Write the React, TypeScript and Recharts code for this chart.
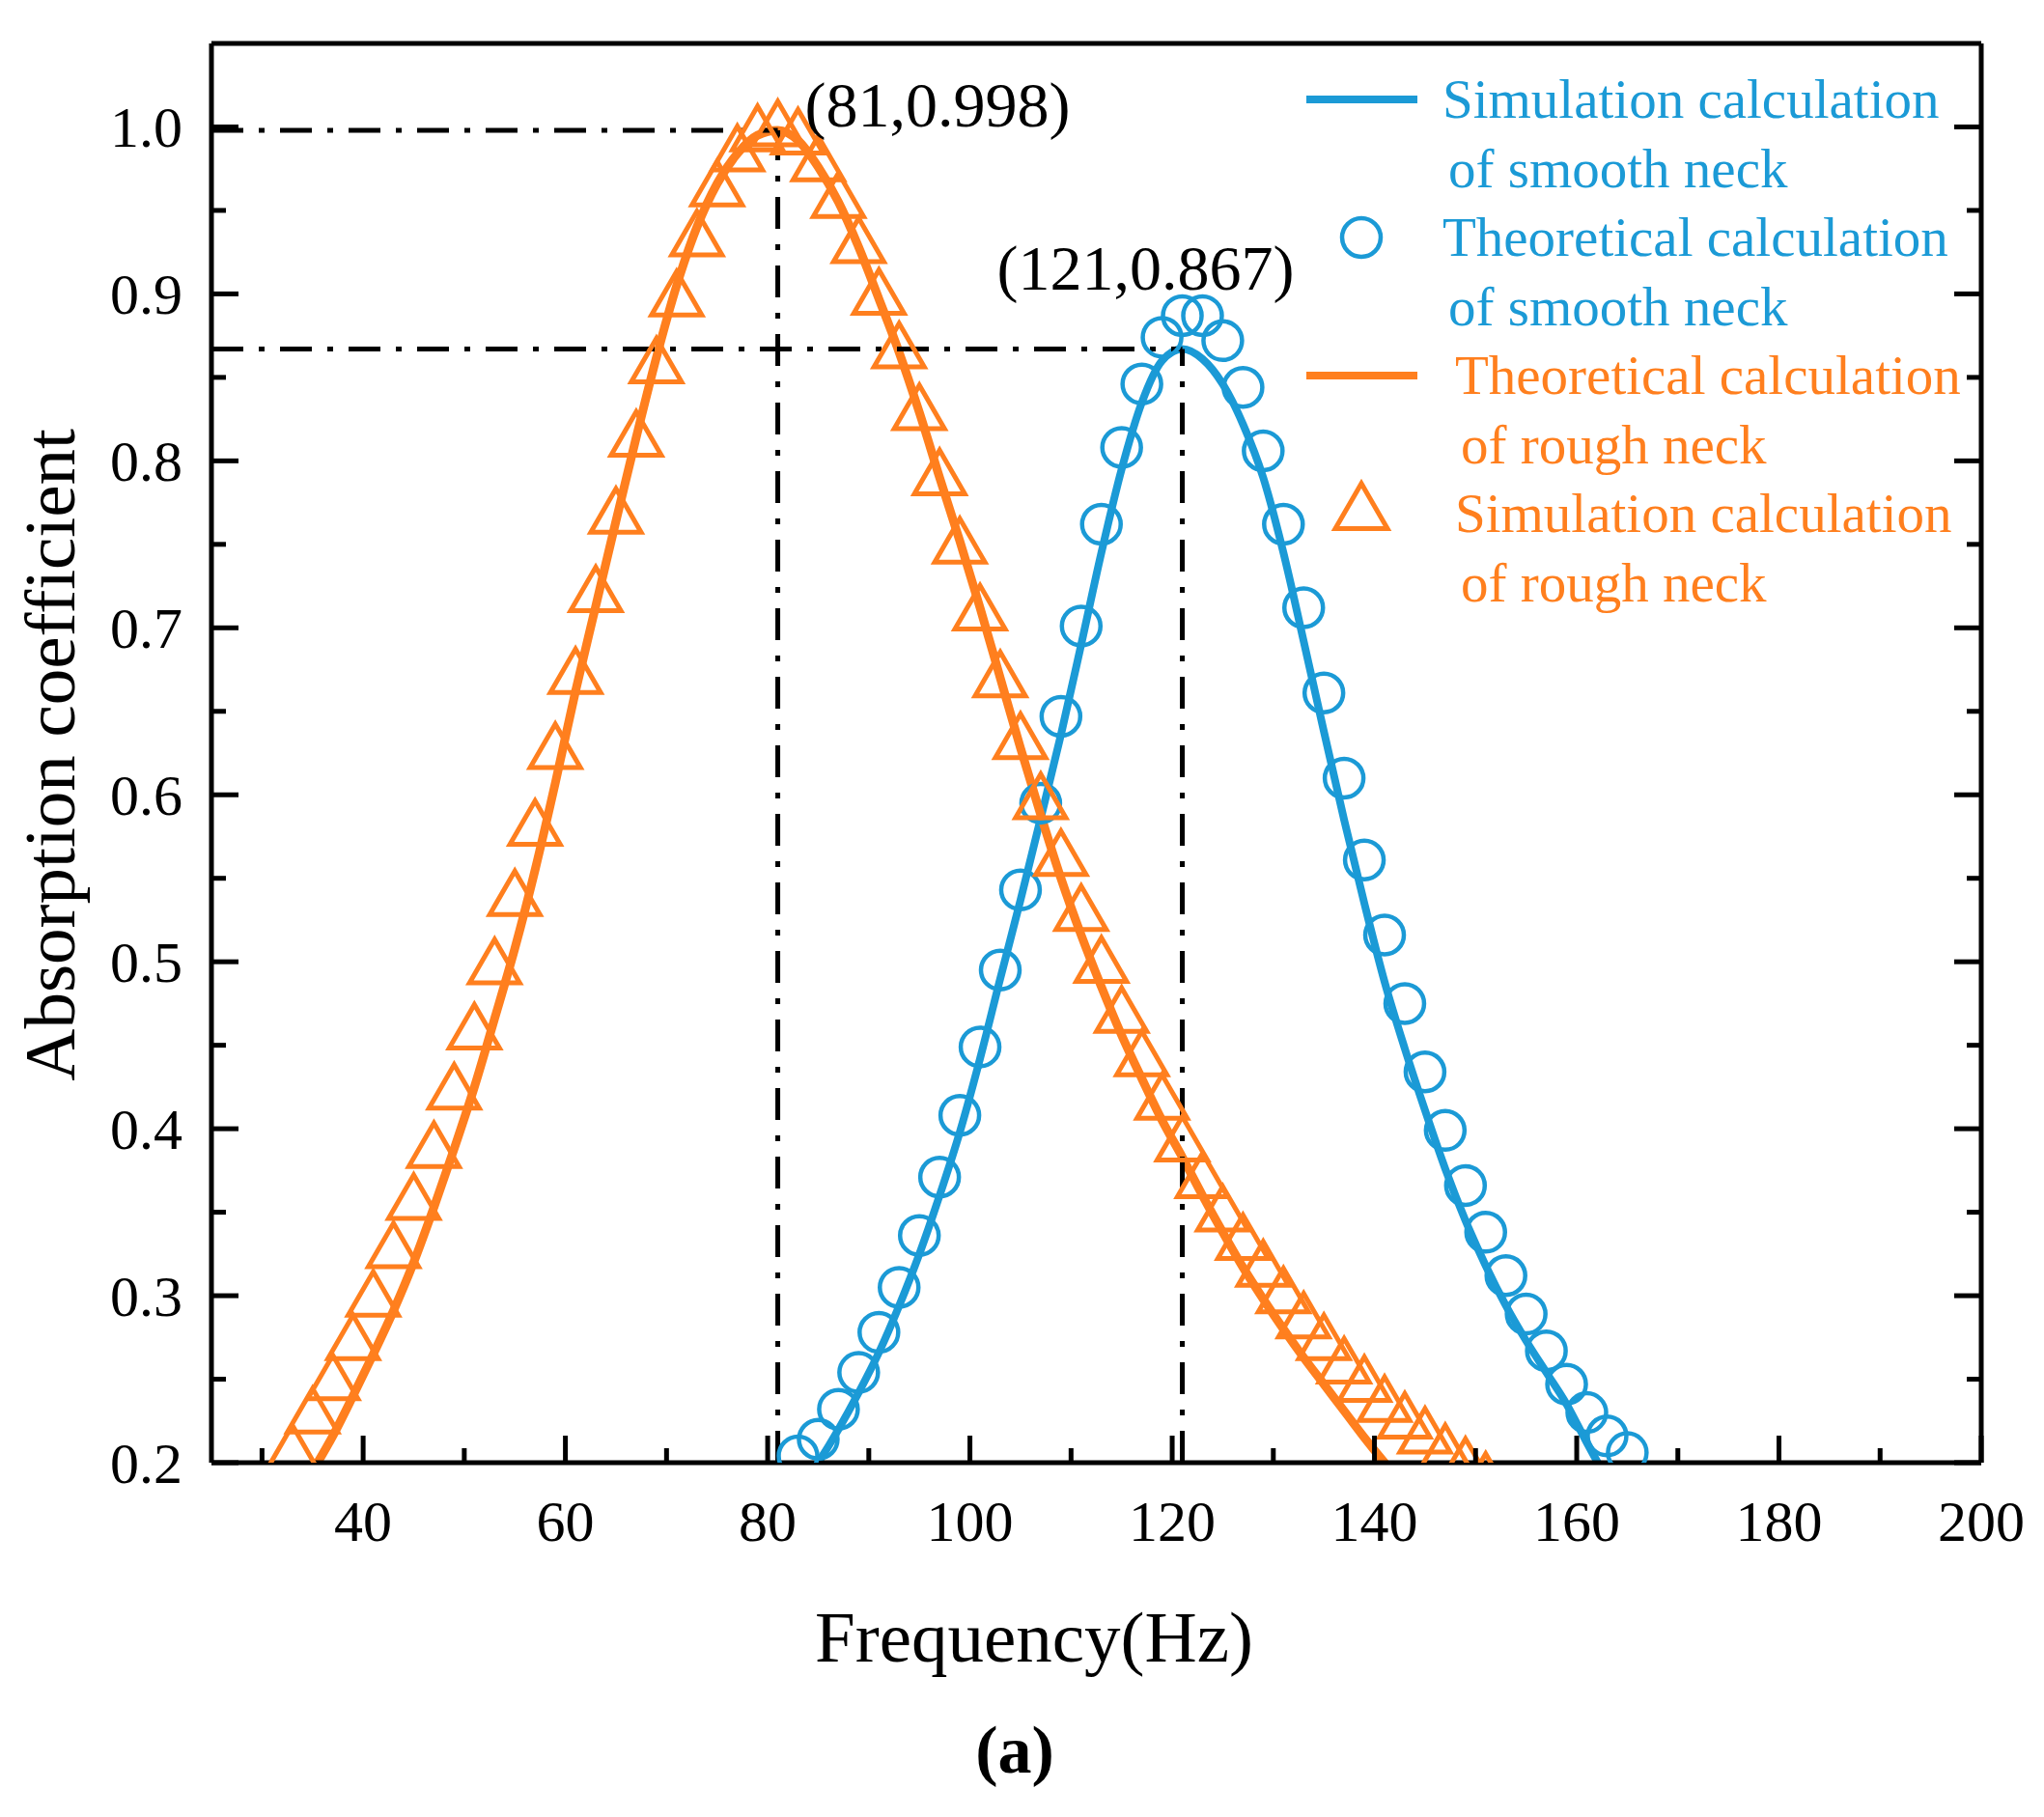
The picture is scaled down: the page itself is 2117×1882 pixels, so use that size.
import {
  ComposedChart,
  Line,
  Scatter,
  XAxis,
  YAxis,
  ReferenceLine,
  ReferenceDot,
  Legend,
} from 'recharts';

const FONT = "'Times New Roman', 'Liberation Serif', serif";
const BLUE = '#1B9AD6';
const ORANGE = '#FF7F1E';

// Simulation, smooth neck (solid blue line)
const SMOOTH_SIM_FREQ = [
  83, 85, 87, 89, 91, 93, 95, 97, 99, 101, 103, 105, 107, 109, 111, 113, 115, 117, 119, 121,
  123, 125, 127, 129, 131, 133, 135, 137, 139, 141, 143, 145, 147, 149, 151, 153, 155, 157, 159, 161, 163,
];
const SMOOTH_SIM_ALPHA = [
  0.182, 0.2, 0.22, 0.242, 0.266, 0.294, 0.325, 0.36, 0.398, 0.442, 0.49, 0.537, 0.586, 0.636, 0.69, 0.745,
  0.795, 0.835, 0.86, 0.867, 0.861, 0.846, 0.822, 0.79, 0.745, 0.692, 0.638, 0.585, 0.535, 0.488, 0.448,
  0.411, 0.376, 0.345, 0.318, 0.294, 0.273, 0.254, 0.235, 0.212, 0.19,
];

// Theory, smooth neck (blue circles)
const SMOOTH_THEORY_FREQ = [
  83, 85, 87, 89, 91, 93, 95, 97, 99, 101, 103, 105, 107, 109, 111, 113, 115, 117, 119, 121, 123,
  125, 127, 129, 131, 133, 135, 137, 139, 141, 143, 145, 147, 149, 151, 153, 155, 157, 159, 161, 163, 165,
];
const SMOOTH_THEORY_ALPHA = [
  0.204, 0.214, 0.232, 0.254, 0.278, 0.305, 0.336, 0.371, 0.408, 0.449, 0.495, 0.543, 0.595, 0.647, 0.701,
  0.762, 0.808, 0.846, 0.874, 0.887, 0.887, 0.872, 0.844, 0.806, 0.762, 0.712, 0.661, 0.61, 0.561, 0.516,
  0.475, 0.434, 0.399, 0.366, 0.338, 0.312, 0.289, 0.267, 0.247, 0.23, 0.216, 0.206,
];

// Theory, rough neck (solid orange line)
const ROUGH_THEORY_FREQ = [
  35, 37, 39, 41, 43, 45, 47, 49, 51, 53, 55, 57, 59, 61, 63, 65, 67, 69, 71, 73, 75, 77, 79, 81, 83,
  85, 87, 89, 91, 93, 95, 97, 99, 101, 103, 105, 107, 109, 111, 113, 115, 117, 119, 121, 123, 125, 127,
  129, 131, 133, 135, 137, 139, 141, 143,
];
const ROUGH_THEORY_ALPHA = [
  0.195, 0.216, 0.24, 0.265, 0.291, 0.32, 0.353, 0.388, 0.425, 0.466, 0.508, 0.555, 0.607, 0.662, 0.713,
  0.764, 0.814, 0.862, 0.905, 0.94, 0.966, 0.984, 0.995, 0.998, 0.992, 0.976, 0.955, 0.928, 0.897, 0.865,
  0.829, 0.79, 0.752, 0.712, 0.67, 0.628, 0.588, 0.55, 0.516, 0.485, 0.456, 0.43, 0.405, 0.383, 0.36,
  0.338, 0.317, 0.298, 0.28, 0.263, 0.247, 0.231, 0.215, 0.2, 0.186,
];

// Simulation, rough neck (orange triangles)
const ROUGH_SIM_FREQ = [
  33, 35, 37, 39, 41, 43, 45, 47, 49, 51, 53, 55, 57, 59, 61, 63, 65, 67, 69, 71, 73, 75, 77, 79, 81,
  83, 85, 87, 89, 91, 93, 95, 97, 99, 101, 103, 105, 107, 109, 111, 113, 115, 117, 119, 121, 123, 125,
  127, 129, 131, 133, 135, 137, 139, 141, 143, 145, 147, 149, 151,
];
const ROUGH_SIM_ALPHA = [
  0.205, 0.227, 0.247, 0.271, 0.297, 0.326, 0.355, 0.386, 0.421, 0.457, 0.496, 0.537, 0.579, 0.625, 0.67,
  0.719, 0.766, 0.812, 0.856, 0.896, 0.932, 0.962, 0.983, 0.995, 0.998, 0.993, 0.977, 0.955, 0.928, 0.897,
  0.865, 0.828, 0.789, 0.748, 0.708, 0.668, 0.631, 0.595, 0.561, 0.528, 0.497, 0.467, 0.441, 0.415, 0.39,
  0.368, 0.348, 0.331, 0.315, 0.299, 0.284, 0.271, 0.257, 0.246, 0.234, 0.224, 0.215, 0.205, 0.197, 0.188,
];

const PEAK_FREQ = [81, 121];
const PEAK_ALPHA = [0.998, 0.867];
const PEAK_LABELS = ['(81,0.998)', '(121,0.867)'];

const X_DOMAIN: [number, number] = [25, 200];
const Y_DOMAIN: [number, number] = [0.2, 1.05];
const X_TICKS = [30, 40, 50, 60, 70, 80, 90, 100, 110, 120, 130, 140, 150, 160, 170, 180, 190, 200];
const X_MAJOR = [40, 60, 80, 100, 120, 140, 160, 180, 200];
const Y_TICKS = [0.2, 0.25, 0.3, 0.35, 0.4, 0.45, 0.5, 0.55, 0.6, 0.65, 0.7, 0.75, 0.8, 0.85, 0.9, 0.95, 1.0];
const Y_MAJOR = [0.2, 0.3, 0.4, 0.5, 0.6, 0.7, 0.8, 0.9, 1.0];

const LEGEND_ITEMS = [
  { lines: ['Simulation calculation', 'of smooth neck'], color: BLUE, symbol: 'line' },
  { lines: ['Theoretical calculation', 'of smooth neck'], color: BLUE, symbol: 'circle' },
  { lines: ['Theoretical calculation', 'of rough neck'], color: ORANGE, symbol: 'line' },
  { lines: ['Simulation calculation', 'of rough neck'], color: ORANGE, symbol: 'triangle' },
];

const toPoints = (xs: number[], ys: number[]) => xs.map((x, i) => ({ x, y: ys[i] }));

const smoothSim = toPoints(SMOOTH_SIM_FREQ, SMOOTH_SIM_ALPHA);
const smoothTheory = toPoints(SMOOTH_THEORY_FREQ, SMOOTH_THEORY_ALPHA);
const roughTheory = toPoints(ROUGH_THEORY_FREQ, ROUGH_THEORY_ALPHA);
const roughSim = toPoints(ROUGH_SIM_FREQ, ROUGH_SIM_ALPHA);

const MAJOR_LEN = 28;
const MINOR_LEN = 15;
const TICK_W = 5;
const TICK_FONT = 60;

const isMajor = (list: number[], v: number) => list.some((m) => Math.abs(m - v) < 1e-9);

function triPath(cx: number, cy: number, side: number) {
  const h = side * 0.866;
  return `M${cx},${cy - (2 * h) / 3} L${cx + side / 2},${cy + h / 3} L${cx - side / 2},${cy + h / 3} Z`;
}

function BottomTick({ x, y, payload }: any) {
  const major = isMajor(X_MAJOR, payload.value);
  return (
    <g>
      <line x1={x} y1={y} x2={x} y2={y - (major ? MAJOR_LEN : MINOR_LEN)} stroke="#000" strokeWidth={TICK_W} />
      {major && (
        <text x={x} y={y + 60} dy="0.35em" textAnchor="middle" fontFamily={FONT} fontSize={TICK_FONT} fill="#000">
          {payload.value}
        </text>
      )}
    </g>
  );
}

function TopTick({ x, y, payload }: any) {
  const major = isMajor(X_MAJOR, payload.value);
  return <line x1={x} y1={y} x2={x} y2={y + (major ? MAJOR_LEN : MINOR_LEN)} stroke="#000" strokeWidth={TICK_W} />;
}

function LeftTick({ x, y, payload }: any) {
  const major = isMajor(Y_MAJOR, payload.value);
  return (
    <g>
      <line x1={x} y1={y} x2={x + (major ? MAJOR_LEN : MINOR_LEN)} y2={y} stroke="#000" strokeWidth={TICK_W} />
      {major && (
        <text x={x - 30} y={y} dy="0.35em" textAnchor="end" fontFamily={FONT} fontSize={TICK_FONT} fill="#000">
          {payload.value.toFixed(1)}
        </text>
      )}
    </g>
  );
}

function RightTick({ x, y, payload }: any) {
  const major = isMajor(Y_MAJOR, payload.value);
  return <line x1={x} y1={y} x2={x - (major ? MAJOR_LEN : MINOR_LEN)} y2={y} stroke="#000" strokeWidth={TICK_W} />;
}

const CircleMark = (p: any) => (
  <circle cx={p.cx} cy={p.cy} r={20} fill="none" stroke={BLUE} strokeWidth={4.5} />
);

const TriangleMark = (p: any) => (
  <path d={triPath(p.cx, p.cy, 52)} fill="none" stroke={ORANGE} strokeWidth={5} />
);

function XTitle({ viewBox }: any) {
  return (
    <g fontFamily={FONT} fill="#000">
      <text x={viewBox.x + 852} y={viewBox.y + 206} textAnchor="middle" fontSize={75}>
        Frequency(Hz)
      </text>
      <text x={viewBox.x + 832} y={viewBox.y + 321} textAnchor="middle" fontSize={70} fontWeight="bold">
        (a)
      </text>
    </g>
  );
}

function YTitle({ viewBox }: any) {
  const cy = viewBox.y + viewBox.height / 2 + 2;
  return (
    <text
      x={77}
      y={cy}
      transform={`rotate(-90, 77, ${cy})`}
      textAnchor="middle"
      fontFamily={FONT}
      fontSize={75}
      fill="#000"
    >
      Absorption coefficient
    </text>
  );
}

function LegendBox() {
  return (
    <svg width={760} height={640} style={{ overflow: 'visible' }}>
      {LEGEND_ITEMS.map((item, i) => {
        const base = 82 + i * 143;
        const sy = base - 19;
        const tx = item.color === BLUE ? 164 : 177;
        return (
          <g key={i}>
            {item.symbol === 'line' && (
              <line x1={23} y1={sy} x2={138} y2={sy} stroke={item.color} strokeWidth={8} />
            )}
            {item.symbol === 'circle' && (
              <circle cx={80} cy={sy} r={20} fill="none" stroke={item.color} strokeWidth={4.5} />
            )}
            {item.symbol === 'triangle' && (
              <path d={triPath(80, sy, 54)} fill="none" stroke={item.color} strokeWidth={5} />
            )}
            <text x={tx} y={base} fontFamily={FONT} fontSize={57} fill={item.color}>
              {item.lines[0]}
            </text>
            <text x={tx + 6} y={base + 72} fontFamily={FONT} fontSize={57} fill={item.color}>
              {item.lines[1]}
            </text>
          </g>
        );
      })}
    </svg>
  );
}

export default function App() {
  return (
    <div style={{ width: 2117, height: 1882, background: '#fff' }}>
      <style>{'body{margin:0}'}</style>
      <ComposedChart width={2117} height={1882} margin={{ top: 0, right: 0, bottom: 0, left: 0 }}>
        <XAxis
          dataKey="x"
          type="number"
          domain={X_DOMAIN}
          allowDataOverflow
          ticks={X_TICKS}
          interval={0}
          tickSize={0}
          tickMargin={0}
          tickLine={false}
          tick={<BottomTick />}
          axisLine={{ stroke: '#000', strokeWidth: 5 }}
          height={367}
          label={XTitle}
        />
        <XAxis
          xAxisId="top"
          orientation="top"
          type="number"
          domain={X_DOMAIN}
          allowDataOverflow
          ticks={X_TICKS}
          interval={0}
          tickSize={0}
          tickMargin={0}
          tickLine={false}
          tick={<TopTick />}
          axisLine={{ stroke: '#000', strokeWidth: 5 }}
          height={45}
        />
        <YAxis
          type="number"
          domain={Y_DOMAIN}
          allowDataOverflow
          ticks={Y_TICKS}
          interval={0}
          tickSize={0}
          tickMargin={0}
          tickLine={false}
          tick={<LeftTick />}
          axisLine={{ stroke: '#000', strokeWidth: 5 }}
          width={219}
          label={YTitle}
        />
        <YAxis
          yAxisId="right"
          orientation="right"
          type="number"
          domain={Y_DOMAIN}
          allowDataOverflow
          ticks={Y_TICKS}
          interval={0}
          tickSize={0}
          tickMargin={0}
          tickLine={false}
          tick={<RightTick />}
          axisLine={{ stroke: '#000', strokeWidth: 5 }}
          width={65}
        />
        <Line
          data={smoothSim}
          dataKey="y"
          type="monotone"
          stroke={BLUE}
          strokeWidth={8}
          dot={false}
          activeDot={false}
          isAnimationActive={false}
        />
        <Scatter data={smoothTheory} dataKey="y" shape={CircleMark} isAnimationActive={false} />
        <Line
          data={roughTheory}
          dataKey="y"
          type="monotone"
          stroke={ORANGE}
          strokeWidth={9}
          dot={false}
          activeDot={false}
          isAnimationActive={false}
        />
        <Scatter data={roughSim} dataKey="y" shape={TriangleMark} isAnimationActive={false} />
        {PEAK_FREQ.map((f, i) => (
          <ReferenceLine
            key={`h${i}`}
            segment={[
              { x: X_DOMAIN[0], y: PEAK_ALPHA[i] },
              { x: f, y: PEAK_ALPHA[i] },
            ]}
            stroke="#000"
            strokeWidth={5}
            strokeDasharray="33 16 6 16"
            ifOverflow="visible"
          />
        ))}
        {PEAK_FREQ.map((f, i) => (
          <ReferenceLine
            key={`v${i}`}
            segment={[
              { x: f, y: Y_DOMAIN[0] },
              { x: f, y: PEAK_ALPHA[i] },
            ]}
            stroke="#000"
            strokeWidth={5}
            strokeDasharray="33 16 6 16"
            ifOverflow="visible"
          />
        ))}
        {PEAK_FREQ.map((f, i) => (
          <ReferenceDot
            key={`l${i}`}
            x={f}
            y={PEAK_ALPHA[i]}
            r={0}
            ifOverflow="visible"
            shape={(p: any) =>
              i === 0 ? (
                <text x={p.cx + 28} y={p.cy - 4} fontFamily={FONT} fontSize={66} fill="#000">
                  {PEAK_LABELS[i]}
                </text>
              ) : (
                <text x={p.cx - 38} y={p.cy - 61} textAnchor="middle" fontFamily={FONT} fontSize={66} fill="#000">
                  {PEAK_LABELS[i]}
                </text>
              )
            }
          />
        ))}
        <Legend
          layout="horizontal"
          align="center"
          verticalAlign="middle"
          wrapperStyle={{ left: 1330, top: 40, width: 760, height: 640 }}
          content={() => <LegendBox />}
        />
      </ComposedChart>
    </div>
  );
}
